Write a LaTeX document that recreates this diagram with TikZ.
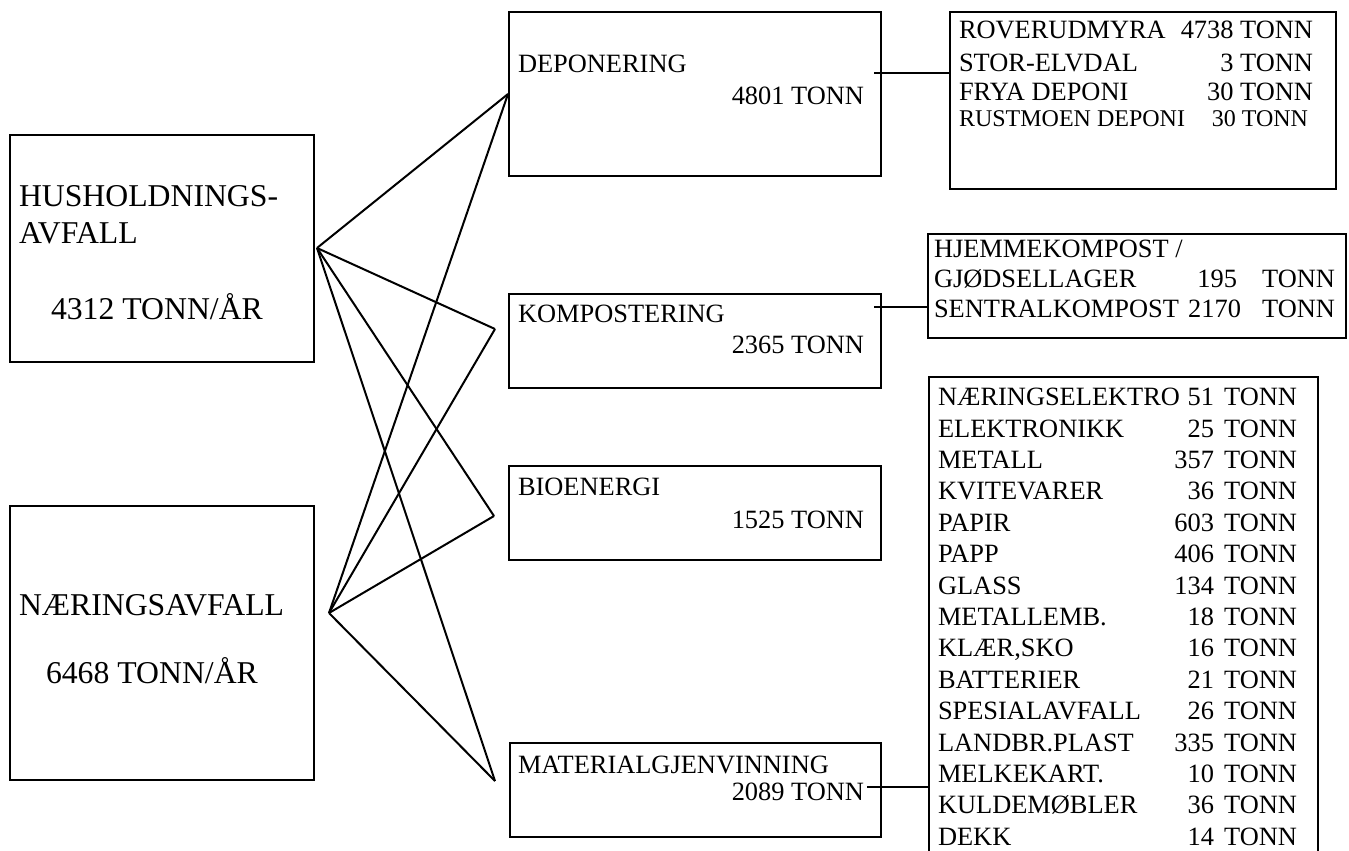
\documentclass[tikz,border=0pt]{standalone}
\usepackage{fontspec}
\setmainfont{Liberation Serif}
\usepackage{tikz}
\usetikzlibrary{calc}

\tikzset{
  box/.style={draw, line width=1.5pt, inner sep=0pt},
  wh/.style 2 args={minimum width=#1*0.75pt, minimum height=#2*0.75pt},
  small/.style={font=\fontsize{19.8}{23}\selectfont, inner sep=0pt},
  smaller/.style={font=\fontsize{18}{21}\selectfont, inner sep=0pt},
  big/.style={font=\fontsize{23.8}{28}\selectfont, inner sep=0pt},
}

\begin{document}
\begin{tikzpicture}[x=0.75pt,y=0.75pt,yscale=-1,xscale=1, line width=1.5pt]
\useasboundingbox (0,0) rectangle (1349,850);
\clip (0,0) rectangle (1349,850);

% kilder
\node[box, wh={304}{227}] (hush) at (162,248.5) {};
\node[box, wh={304}{274}] (naer) at (162,643) {};
\node[big, anchor=base west] (hushname) at (18,206) {HUSHOLDNINGS-};
\node[big, anchor=base west] (hushname2) at (18,243) {AVFALL};
\node[big, anchor=base west] (hushsum) at (50,319) {4312 TONN/ÅR};
\node[big, anchor=base west] (naername) at (18,615) {NÆRINGSAVFALL};
\node[big, anchor=base west] (naersum) at (45,683) {6468 TONN/ÅR};

% behandling
\node[box, wh={372}{164}] (dep) at (695,94) {};
\node[box, wh={372}{94}] (komp) at (695,341) {};
\node[box, wh={372}{94}] (bio) at (695,513) {};
\node[box, wh={371}{94}] (mat) at (695.5,790) {};
\foreach \b/\lbl/\val/\ya/\yb in {dep/DEPONERING/4801/72/104, komp/KOMPOSTERING/2365/322/353,
    bio/BIOENERGI/1525/495/528, mat/MATERIALGJENVINNING/2089/773/800} {
  \node[small, anchor=base west] (\b name) at (517,\ya) {\lbl};
  \node[small, anchor=base east] (\b sum) at (865,\yb) {\val{} TONN};
}

% linjer fra kildene
\coordinate (hushout) at (317,248);
\coordinate (naerout) at (329,613);
\coordinate (kompin) at (495,329);
\coordinate (bioin) at (494,516);
\coordinate (matin) at (495,781);
\foreach \t in {dep.west, kompin, bioin, matin} {
  \draw (hushout) -- (\t);
  \draw (naerout) -- (\t);
}

% deponi
\node[box, wh={386}{177}] (deplist) at (1143,100.5) {};
\foreach \lbl/\val/\y [count=\i] in {ROVERUDMYRA/4738/38, STOR-ELVDAL/3/71, FRYA DEPONI/30/100} {
  \node[small, anchor=base west] (dep\i) at (958,\y) {\lbl};
  \node[small, anchor=base east] (depv\i) at (1314,\y) {\val{} TONN};
}
\node[smaller, anchor=base west] (dep4) at (958,126) {RUSTMOEN DEPONI};
\node[smaller, anchor=base east] (depv4) at (1309,126) {30 TONN};
\coordinate (depout) at (874,73);
\draw (depout) -- (depout -| deplist.west);

% kompost
\node[box, wh={418}{104}] (komplist) at (1137,286) {};
\node[small, anchor=base west] (komp1) at (933,257) {HJEMMEKOMPOST /};
\node[small, anchor=base west] (komp2) at (933,287) {GJØDSELLAGER};
\node[small, anchor=base east] (kompv2) at (1238,287) {195};
\node[small, anchor=base east] (kompt2) at (1336,287) {TONN};
\node[small, anchor=base west] (komp3) at (933,317) {SENTRALKOMPOST};
\node[small, anchor=base east] (kompv3) at (1242,317) {2170};
\node[small, anchor=base east] (kompt3) at (1336,317) {TONN};
\coordinate (kompout) at (874,307);
\draw (kompout) -- (kompout -| komplist.west);

% materialgjenvinning
\node[box, wh={389}{503}] (matlist) at (1123.5,628.5) {};
\foreach \lbl/\val [count=\i from 0] in {NÆRINGSELEKTRO/51, ELEKTRONIKK/25, METALL/357,
    KVITEVARER/36, PAPIR/603, PAPP/406, GLASS/134, METALLEMB./18, {KLÆR,SKO}/16,
    BATTERIER/21, SPESIALAVFALL/26, LANDBR.PLAST/335, MELKEKART./10, KULDEMØBLER/36, DEKK/14} {
  \node[small, anchor=base west] (mat\i) at (937,{405.7+31.4*\i}) {\lbl};
  \node[small, anchor=base east] (matv\i) at (1215,{405.7+31.4*\i}) {\val};
  \node[small, anchor=base east] (matt\i) at (1298,{405.7+31.4*\i}) {TONN};
}
\coordinate (matout) at (867,787);
\draw (matout) -- (matout -| matlist.west);
\end{tikzpicture}
\end{document}
